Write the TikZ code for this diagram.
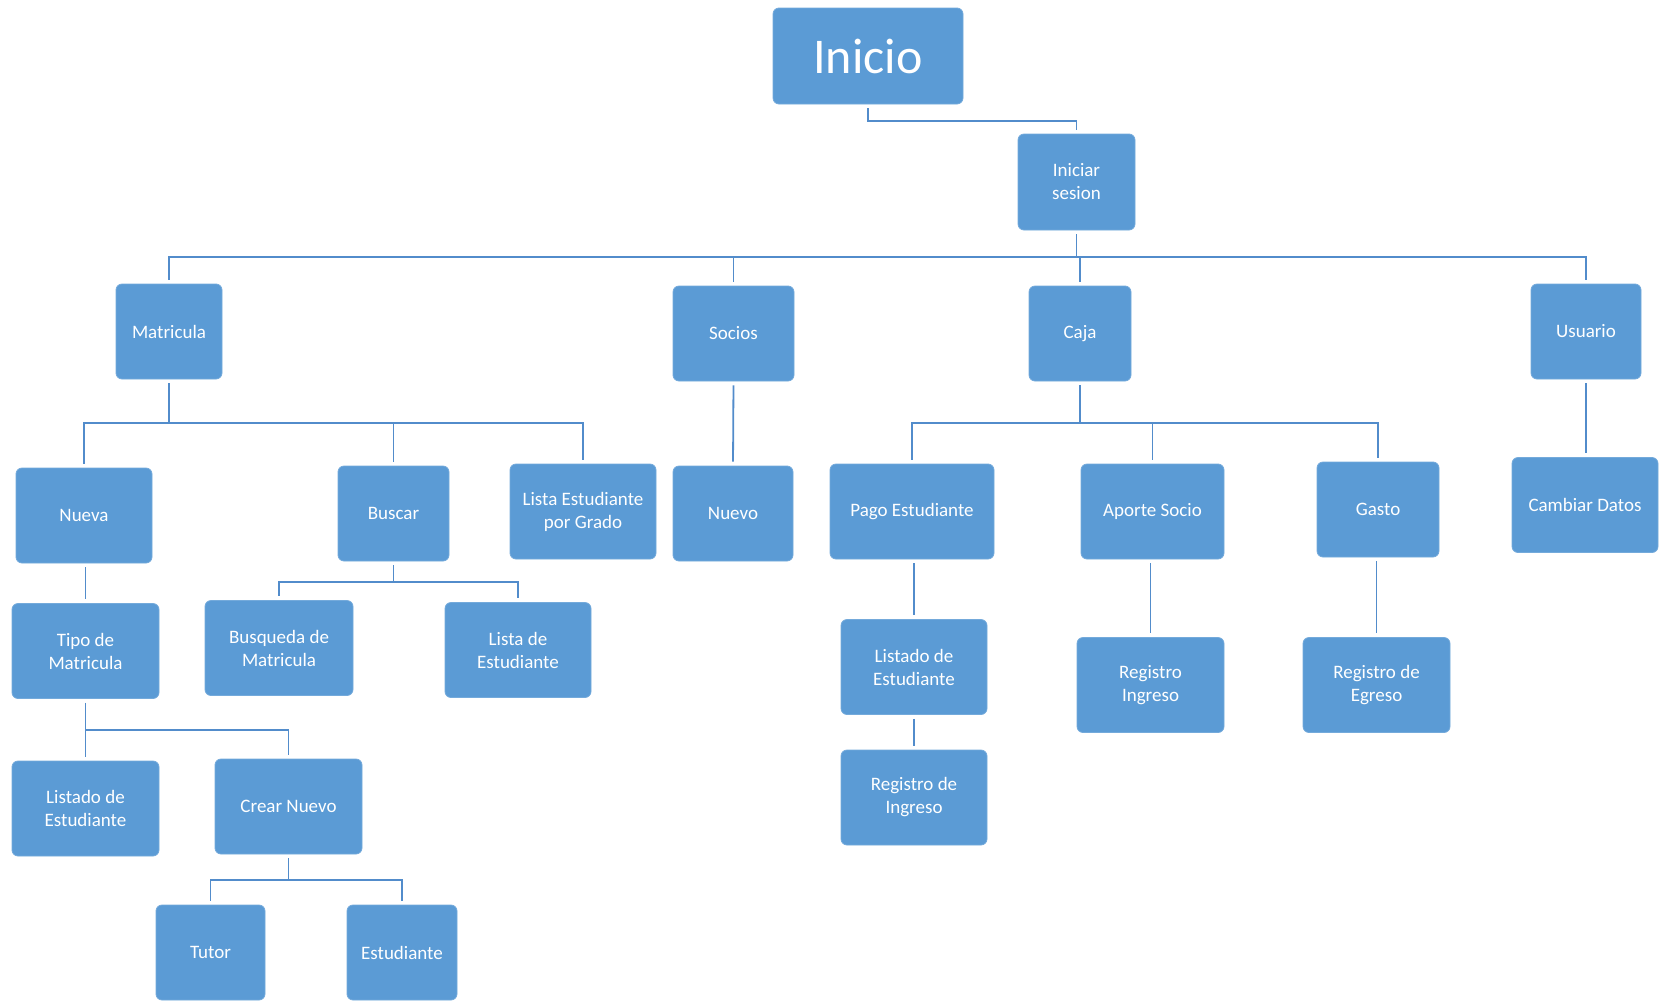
\documentclass[tikz,border=0pt]{standalone}
\usepackage{fontspec}
\setmainfont{Carlito}
\definecolor{boxblue}{RGB}{91,155,213}
\definecolor{lineblue}{RGB}{82,140,203}
\begin{document}
\begin{tikzpicture}[x=1pt,y=-1pt,
  box/.style={fill=boxblue, draw=boxblue!85!white, line width=0.8pt,
    rounded corners=6pt, text=white, align=center, inner sep=0pt,
    minimum height=95pt, font=\fontsize{19}{23}\selectfont},
  conn/.style={draw=lineblue, line width=1.8pt, shorten <=4pt, shorten >=4pt}]
\useasboundingbox (0,0) rectangle (1660,1002);

% root and login
\node[box, minimum width=190pt, minimum height=96pt, font=\fontsize{50}{56}\selectfont] (ini) at (868,56) {Inicio};
\node[box, minimum width=117pt, minimum height=96pt] (ses) at (1076.5,182) {Iniciar\\sesion};

% main modules
\node[box, minimum width=106pt] (mat) at (169,331.5) {Matricula};
\node[box, minimum width=121pt] (soc) at (733.5,333.5) {Socios};
\node[box, minimum width=102pt] (caja) at (1080,333.5) {Caja};
\node[box, minimum width=110pt] (usu) at (1586,331.5) {Usuario};

% second level
\node[box, minimum width=136pt] (nueva) at (84,515.5) {Nueva};
\node[box, minimum width=111pt] (bus) at (393.5,513.5) {Buscar};
\node[box, minimum width=146pt] (lgrado) at (583,511.5) {Lista Estudiante\\por Grado};
\node[box, minimum width=120pt] (nuevo) at (733,513.5) {Nuevo};
\node[box, minimum width=164pt] (pago) at (912,511.5) {Pago Estudiante};
\node[box, minimum width=143pt] (aporte) at (1152.5,511.5) {Aporte Socio};
\node[box, minimum width=122pt] (gasto) at (1378,509.5) {Gasto};
\node[box, minimum width=146pt] (cam) at (1585,505) {Cambiar Datos};

% third level
\node[box, minimum width=147pt] (tipo) at (85.5,651) {Tipo de\\Matricula};
\node[box, minimum width=148pt] (busq) at (279,648) {Busqueda de\\Matricula};
\node[box, minimum width=146pt] (lista) at (518,650) {Lista de\\Estudiante};
\node[box, minimum width=146pt] (listc) at (914,667) {Listado de\\Estudiante};
\node[box, minimum width=147pt] (ring) at (1150.5,685) {Registro\\Ingreso};
\node[box, minimum width=147pt] (regr) at (1376.5,685) {Registro de\\Egreso};

% fourth level
\node[box, minimum width=147pt] (listm) at (85.5,808.5) {Listado de\\Estudiante};
\node[box, minimum width=147pt] (crear) at (288.5,806.5) {Crear Nuevo};
\node[box, minimum width=146pt] (rdei) at (914,797.5) {Registro de\\Ingreso};

% fifth level
\node[box, minimum width=109pt] (tutor) at (210.5,952.5) {Tutor};
\node[box, minimum width=110pt] (estu) at (402,952.5) {Estudiante};

% bus heights of the elbow connectors
\coordinate (y0) at (0,121);
\coordinate (y1) at (0,257);
\coordinate (y2) at (0,423);
\coordinate (y3) at (0,582);
\coordinate (y4) at (0,730);
\coordinate (y5) at (0,880);

% connectors
\draw[conn] (ini.south) -- (ini.south |- y0) -| (ses.north);

\draw[conn] (ses.south) -- (ses.south |- y1) -| (mat.north);
\draw[conn] (ses.south) -- (ses.south |- y1) -| (soc.north);
\draw[conn] (ses.south) -- (ses.south |- y1) -| (caja.north);
\draw[conn] (ses.south) -- (ses.south |- y1) -| (usu.north);

\draw[conn] (mat.south) -- (mat.south |- y2) -| (nueva.north);
\draw[conn] (mat.south) -- (mat.south |- y2) -| (bus.north);
\draw[conn] (mat.south) -- (mat.south |- y2) -| (lgrado.north);

\draw[conn] (soc.south) -- (nuevo.north);

\draw[conn] (caja.south) -- (caja.south |- y2) -| (pago.north);
\draw[conn] (caja.south) -- (caja.south |- y2) -| (aporte.north);
\draw[conn] (caja.south) -- (caja.south |- y2) -| (gasto.north);

\draw[conn] (usu.south) -- (usu.south |- cam.north);

\draw[conn] (nueva.south -| tipo.north) -- (tipo.north);

\draw[conn] (bus.south) -- (bus.south |- y3) -| (busq.north);
\draw[conn] (bus.south) -- (bus.south |- y3) -| (lista.north);

\draw[conn] (pago.south -| listc.north) -- (listc.north);
\draw[conn] (aporte.south -| ring.north) -- (ring.north);
\draw[conn] (gasto.south -| regr.north) -- (regr.north);

\draw[conn] (tipo.south) -- (listm.north);
\draw[conn] (tipo.south) -- (tipo.south |- y4) -| (crear.north);

\draw[conn] (listc.south) -- (rdei.north);

\draw[conn] (crear.south) -- (crear.south |- y5) -| (tutor.north);
\draw[conn] (crear.south) -- (crear.south |- y5) -| (estu.north);
\end{tikzpicture}
\end{document}
